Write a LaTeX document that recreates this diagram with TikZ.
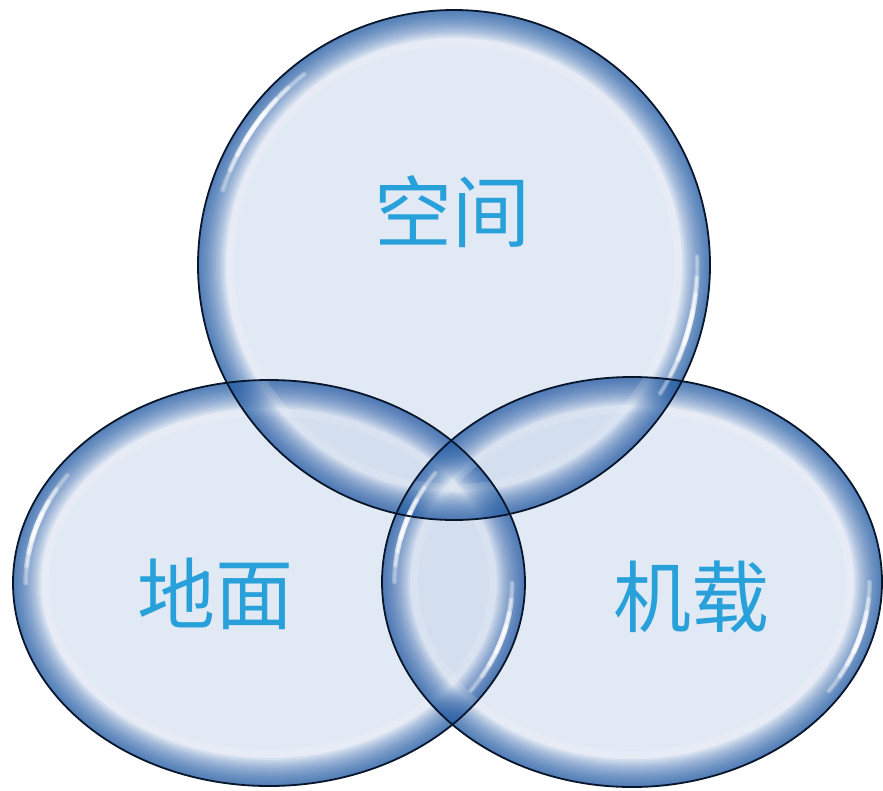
\documentclass[tikz,border=0pt]{standalone}
\usepackage{fontspec}
\newfontfamily\cjk{Noto Sans CJK SC}
\definecolor{fillc}{RGB}{198,212,234}
\definecolor{rimc}{RGB}{22,82,160}
\definecolor{edgec}{RGB}{8,22,44}
\definecolor{txtc}{RGB}{40,160,218}
\tikzset{
  lbl/.style={text=txtc, font=\cjk\fontsize{78}{80}\selectfont, inner sep=0pt},
}
% #1 cx, #2 cy, #3 rx, #4 ry
\newcommand\gfill[4]{\fill[fillc, fill opacity=0.52] (#1,#2) ellipse [x radius=#3, y radius=#4];}
\newcommand\grim[4]{%
  \begin{scope}
    \clip (#1,#2) ellipse [x radius=#3, y radius=#4];
    \draw[white, opacity=0.15, line width=72pt] (#1,#2) ellipse [x radius=#3, y radius=#4];
    \foreach \w in {56,52,...,4}
      \draw[rimc, opacity=0.08, line width=\w pt] (#1,#2) ellipse [x radius=#3, y radius=#4];
  \end{scope}}
\newcommand\ghl[6]{% cx cy rx ry center-angle k
  \foreach \s/\o in {17/0.25,12/0.3,8/0.4,4/0.5}{
    \draw[white, opacity=\o, line width=5pt, line cap=round] plot[domain=#5-\s:#5+\s, samples=30, smooth]
      ({#1+#6*#3*cos(\x)},{#2+#6*#4*sin(\x)});
    \draw[white, opacity=\o, line width=2.2pt, line cap=round] plot[domain=#5-\s:#5+\s, samples=30, smooth]
      ({#1+#6*#3*cos(\x)},{#2+#6*#4*sin(\x)});
  }}
\newcommand\gedge[4]{\draw[edgec, line width=1.8pt] (#1,#2) ellipse [x radius=#3, y radius=#4];}
\begin{document}
\begin{tikzpicture}[x=1pt,y=-1pt]
\useasboundingbox (0,0) rectangle (883,790);
\gfill{269}{583}{256}{203}
\gfill{632}{582}{250}{205}
\gfill{454}{265}{256}{255}
\grim{269}{583}{256}{203}
\grim{632}{582}{250}{205}
\grim{454}{265}{256}{255}
\ghl{269}{583}{256}{203}{197}{0.95}
\ghl{269}{583}{256}{203}{17}{0.95}
\ghl{632}{582}{250}{205}{197}{0.95}
\ghl{632}{582}{250}{205}{17}{0.95}
\ghl{454}{265}{256}{255}{215}{0.95}
\ghl{454}{265}{256}{255}{15}{0.95}
\gedge{269}{583}{256}{203}
\gedge{632}{582}{250}{205}
\gedge{454}{265}{256}{255}
\node[lbl] (space) at (452,212) {空间};
\node[lbl] (ground) at (215,594) {地面};
\node[lbl] (air) at (691,597) {机载};
\end{tikzpicture}
\end{document}
